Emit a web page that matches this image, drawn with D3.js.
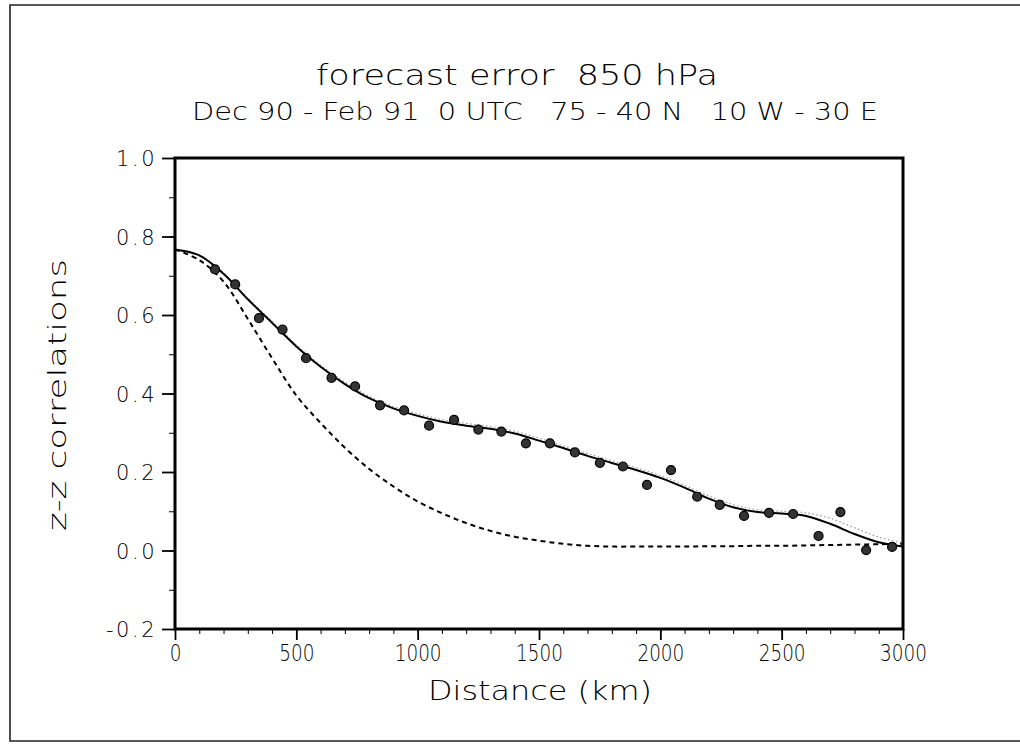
<!DOCTYPE html>
<html>
<head>
<meta charset="utf-8">
<script src="https://cdn.jsdelivr.net/npm/d3@7"></script>
<style>
  body { margin: 0; background: #fff; }
  svg { display: block; }
  .axis path, .axis line { stroke: #000; }
  .axis text { fill: #000; }
  .thin { font-family: 'DejaVu Sans', sans-serif; font-weight: 200; fill: #000; }
</style>
</head>
<body>
<script>
// observed correlations (points)
var obsDist = [165, 248, 346, 443, 540, 645, 742, 845, 944, 1047, 1150, 1250, 1345, 1446, 1545,
               1648, 1751, 1846, 1945, 2044, 2152, 2245, 2345, 2448, 2547, 2652, 2742, 2848, 2955];
var obsCorr = [0.716, 0.678, 0.592, 0.563, 0.490, 0.440, 0.418, 0.370, 0.357, 0.318, 0.333, 0.308, 0.303, 0.273, 0.273,
               0.250, 0.223, 0.214, 0.167, 0.205, 0.137, 0.116, 0.088, 0.096, 0.093, 0.037, 0.098, 0.001, 0.009];

// fitted curve (solid), dotted gray curve, and model curve (dashed)
var fitDist = [0, 100, 200, 300, 400, 500, 600, 700, 800, 900, 1000, 1100, 1200, 1300, 1400, 1500,
               1600, 1700, 1800, 1900, 2000, 2100, 2200, 2300, 2400, 2500, 2600, 2700, 2800, 2900, 3000];
var fitCorr = [0.767, 0.752, 0.705, 0.640, 0.580, 0.520, 0.468, 0.424, 0.388, 0.362, 0.343, 0.328, 0.318, 0.310, 0.298, 0.280,
               0.261, 0.241, 0.223, 0.205, 0.185, 0.160, 0.132, 0.110, 0.098, 0.094, 0.088, 0.068, 0.042, 0.021, 0.010];
var dotCorr = [0.767, 0.753, 0.707, 0.643, 0.584, 0.524, 0.472, 0.429, 0.393, 0.367, 0.348, 0.334, 0.324, 0.316, 0.304, 0.286,
               0.267, 0.247, 0.229, 0.211, 0.191, 0.166, 0.139, 0.117, 0.104, 0.100, 0.096, 0.082, 0.058, 0.034, 0.020];
var modelCorr = [0.767, 0.740, 0.685, 0.590, 0.490, 0.395, 0.325, 0.262, 0.208, 0.163, 0.125, 0.095, 0.070, 0.050, 0.035, 0.025,
                 0.017, 0.012, 0.010, 0.010, 0.010, 0.010, 0.011, 0.011, 0.012, 0.012, 0.013, 0.014, 0.015, 0.016, 0.017];

var xMajor = [0, 500, 1000, 1500, 2000, 2500, 3000];
var yMajor = [-0.2, 0.0, 0.2, 0.4, 0.6, 0.8, 1.0];

var svgWidth = 1020, svgHeight = 744;
var margin = {top: 158, left: 175, right: 117, bottom: 115};
var width = svgWidth - margin.left - margin.right,
    height = svgHeight - margin.top - margin.bottom;

var svg = d3.select("body").append("svg").attr("width", svgWidth).attr("height", svgHeight);

// page frame (open on the right)
svg.append("path")
    .attr("d", "M1022,5 L10,5 L10,741 L1022,741")
    .attr("fill", "none").attr("stroke", "#222").attr("stroke-width", 1.6);

var chartGroup = svg.append("g").attr("transform", `translate(${margin.left},${margin.top})`);

var xScale = d3.scaleLinear().domain([0, 3000]).range([0, width]);
var yScale = d3.scaleLinear().domain([-0.2, 1.0]).range([height, 0]);

// minor ticks
chartGroup.append("g")
    .attr("class", "axis")
    .attr("transform", "translate(0," + height + ")")
    .call(d3.axisBottom(xScale).tickValues(d3.range(0, 3001, 100)).tickSize(5).tickFormat(""))
    .call(g => g.select(".domain").remove());
chartGroup.append("g")
    .attr("class", "axis")
    .call(d3.axisLeft(yScale).tickValues(d3.range(-2, 11).map(d => d / 10)).tickSize(6).tickFormat(""))
    .call(g => g.select(".domain").remove());

// major ticks and labels
var xAxis = chartGroup.append("g")
    .attr("class", "axis")
    .attr("transform", "translate(0," + height + ")")
    .call(d3.axisBottom(xScale).tickValues(xMajor).tickSize(11).tickPadding(5).tickFormat(d3.format("d")));
xAxis.select(".domain").remove();
xAxis.selectAll("line").attr("stroke-width", 1.8);
xAxis.selectAll("text")
    .attr("class", "thin")
    .attr("font-size", "23px")
    .attr("transform", "scale(0.8,1)");

var yAxis = chartGroup.append("g")
    .attr("class", "axis")
    .call(d3.axisLeft(yScale).tickValues(yMajor).tickSize(13).tickPadding(5)
      .tickFormat(function(d) { return d3.format(".1f")(d).replace("\u2212", "-"); }));
yAxis.select(".domain").remove();
yAxis.selectAll("line").attr("stroke-width", 1.8);
yAxis.selectAll("text")
    .attr("class", "thin")
    .attr("font-size", "21px")
    .attr("letter-spacing", "2.5px")
    .attr("dy", "0.36em");

// plot frame
chartGroup.append("rect")
    .attr("x", 0).attr("y", 0).attr("width", width).attr("height", height)
    .attr("fill", "none").attr("stroke", "#000").attr("stroke-width", 3);

var line = function(ys) {
  return d3.line()
      .x(function(d, i) { return xScale(fitDist[i]); })
      .y(function(d) { return yScale(d); })
      .curve(d3.curveCatmullRom)(ys);
};

chartGroup.append("path")
    .attr("d", line(dotCorr))
    .attr("fill", "none").attr("stroke", "#999").attr("stroke-width", 1.2)
    .attr("stroke-dasharray", "1.5,2.5");

chartGroup.append("path")
    .attr("d", line(modelCorr))
    .attr("fill", "none").attr("stroke", "#000").attr("stroke-width", 2)
    .attr("stroke-dasharray", "5,4");

chartGroup.append("path")
    .attr("d", line(fitCorr))
    .attr("fill", "none").attr("stroke", "#000").attr("stroke-width", 2);

chartGroup.selectAll(".dot")
    .data(obsCorr)
  .enter().append("circle")
    .attr("class", "dot")
    .attr("r", 4.5)
    .attr("cx", function(d, i) { return xScale(obsDist[i]); })
    .attr("cy", function(d) { return yScale(d); })
    .attr("fill", "#333")
    .attr("stroke", "#000")
    .attr("stroke-width", 1.2);

// titles
svg.append("text")
    .attr("class", "thin")
    .attr("x", 517).attr("y", 85)
    .attr("text-anchor", "middle")
    .attr("font-size", "29px")
    .attr("textLength", 402).attr("lengthAdjust", "spacingAndGlyphs")
    .attr("xml:space", "preserve")
    .text("forecast error  850 hPa");

svg.append("text")
    .attr("class", "thin")
    .attr("x", 535).attr("y", 120)
    .attr("text-anchor", "middle")
    .attr("font-size", "24px")
    .attr("textLength", 686).attr("lengthAdjust", "spacingAndGlyphs")
    .attr("xml:space", "preserve")
    .text("Dec 90 - Feb 91  0 UTC   75 - 40 N   10 W - 30 E");

svg.append("text")
    .attr("class", "thin")
    .attr("x", 540).attr("y", 700)
    .attr("text-anchor", "middle")
    .attr("font-size", "27px")
    .attr("textLength", 224).attr("lengthAdjust", "spacingAndGlyphs")
    .text("Distance (km)");

svg.append("text")
    .attr("class", "thin")
    .attr("transform", "translate(66,395)rotate(-90)")
    .attr("text-anchor", "middle")
    .attr("font-size", "25px")
    .attr("textLength", 272).attr("lengthAdjust", "spacingAndGlyphs")
    .text("z-z correlations");
</script>
</body>
</html>
